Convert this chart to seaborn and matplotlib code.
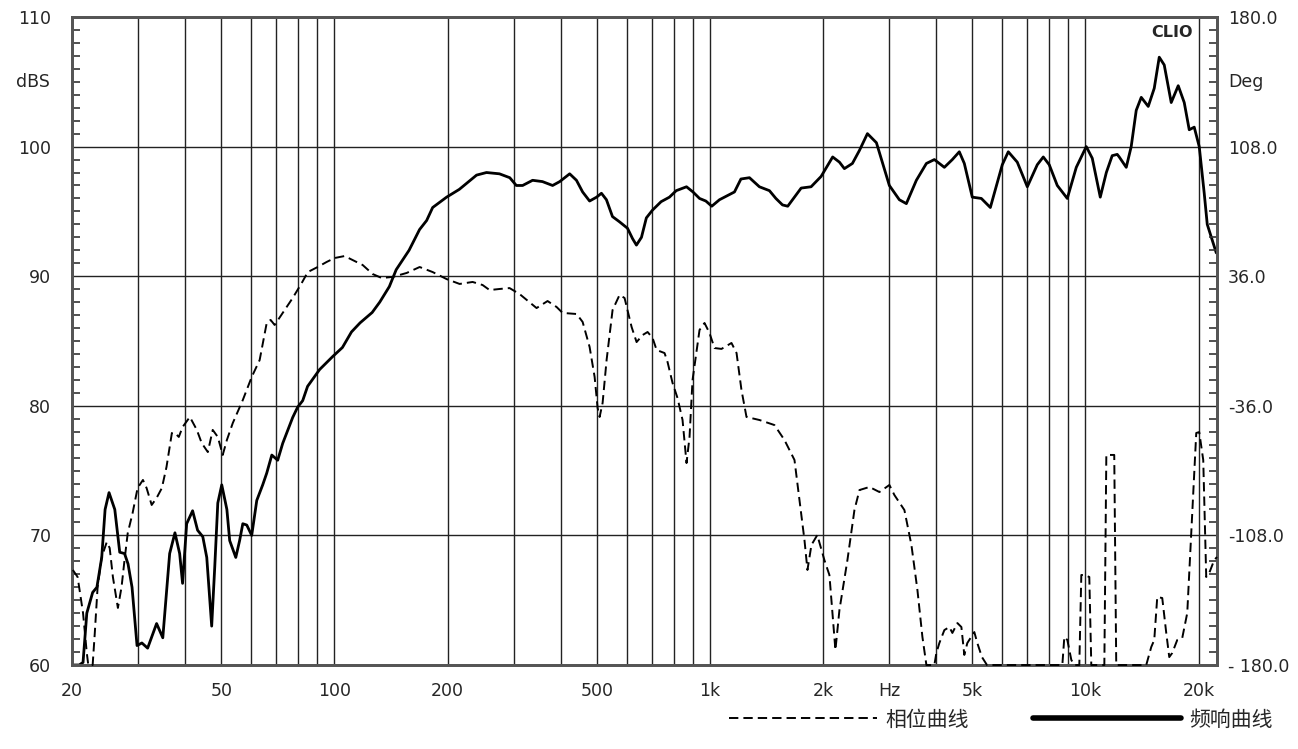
import pandas as pd
import seaborn as sns
import matplotlib.pyplot as plt
from matplotlib.ticker import MultipleLocator, NullLocator, FixedLocator
import numpy as np

# frequency response (solid line) - Hz / dB
spl_freq = [20, 20.9, 21.4, 21.9, 22.7, 23.3, 24.0, 24.5, 25.1, 26.0, 26.8, 27.6, 28.2, 28.9,
            29.8, 30.7, 31.8, 33.6, 34.9, 36.4, 37.6, 38.7, 39.4, 40.4, 41.9, 43.2, 44.6, 45.7,
            47.1, 48.0, 48.9, 50.1, 51.7, 52.6, 54.6, 55.9, 57.0, 58.4, 60.2, 62.1, 64.4, 66.0,
            68.1, 70.6, 72.8, 77.4, 79.8, 82.3, 84.8, 91.3, 98.9, 105, 111, 117, 126, 132, 140,
            146, 158, 168.5, 176, 182.6, 198.9, 215, 239, 254, 275, 293, 305, 317, 337, 358, 381,
            398, 423, 441, 458, 478, 499, 514, 530, 550, 574, 603, 622, 637, 657, 677, 703, 741,
            780, 813, 866, 901, 938, 975, 1011, 1060, 1127, 1162, 1209, 1274, 1354, 1440, 1498,
            1560, 1611, 1679, 1749, 1859, 1977, 2122, 2212, 2280, 2395, 2500, 2626, 2775, 3004,
            3194, 3334, 3545, 3770, 3959, 4209, 4420, 4613, 4757, 4995, 5280, 5580, 6004, 6229,
            6582, 7000, 7441, 7720, 8008, 8412, 8944, 9452, 10048, 10425, 10949, 11364, 11780,
            12150, 12300, 12840, 13236, 13651, 14077, 14694, 15245, 15719, 16208, 16918, 17660,
            18323, 18893, 19481, 20088, 20712, 21100, 21752, 22300]
spl_db = [60.0, 60.0, 60.2, 64.0, 65.6, 66.0, 68.3, 72.0, 73.3, 72.0, 68.7, 68.6, 67.8, 66.0,
          61.5, 61.7, 61.3, 63.2, 62.1, 68.6, 70.2, 68.6, 66.3, 70.9, 71.9, 70.4, 69.9, 68.3,
          63.0, 67.6, 72.5, 73.9, 72.0, 69.6, 68.3, 69.6, 70.9, 70.8, 70.0, 72.7, 73.9, 74.8,
          76.2, 75.8, 77.1, 79.1, 79.9, 80.4, 81.5, 82.8, 83.8, 84.5, 85.7, 86.4, 87.2, 88.0, 89.2,
          90.5, 92.0, 93.6, 94.3, 95.3, 96.1, 96.7, 97.8, 98.0, 97.9, 97.6, 97.0, 97.0, 97.4, 97.3, 97.0,
          97.3, 97.9, 97.4, 96.5, 95.8, 96.1, 96.4, 95.9, 94.6, 94.2, 93.7, 92.9, 92.4, 93.0, 94.5, 95.1, 95.75,
          96.1, 96.6, 96.9, 96.5, 96.0, 95.8, 95.4, 95.9, 96.3, 96.5, 97.5, 97.6, 96.9, 96.6, 96.0,
          95.5, 95.4, 96.1, 96.8, 96.9, 97.7, 99.2, 98.8, 98.3, 98.7, 99.7, 101.0, 100.3, 97.0,
          95.9, 95.6, 97.4, 98.7, 99.0, 98.4, 99.0, 99.6, 98.7, 96.1, 96.0, 95.3, 98.6, 99.6,
          98.8, 96.9, 98.6, 99.2, 98.6, 97.0, 96.0, 98.4, 100.0, 99.1, 96.1, 98.0, 99.3,
          99.4, 99.2, 98.4, 100.0, 102.8, 103.8, 103.1, 104.5, 106.9, 106.3, 103.4, 104.7,
          103.4, 101.3, 101.5, 100.0, 96.4, 94.0, 92.8, 91.8]

# phase (dashed line) - Hz / degrees
phase_freq = [20.1, 20.7, 21.4, 21.9, 22.1, 22.7, 23.0, 23.4, 24.0, 24.75, 25.2, 25.7, 26.5, 27.1,
              27.6, 28.15, 29.0, 29.9, 30.9, 31.6, 32.6, 33.6, 34.7, 35.7, 36.9, 37.6, 38.5, 39.4,
              41.2, 43.0, 44.3, 46.0, 47.4, 48.9, 50.4, 51.7, 53.6, 57.0, 60.2, 63.2, 66.0, 67.6,
              69.3, 72.8, 77.4, 81.8, 84.9, 90.2, 95.3, 100.1, 106.4, 111.8, 118.9, 126.4, 133.6,
              142.9, 155.7, 168.6, 182.6, 198.9, 215.4, 233.3, 248, 258.9, 275.2, 292.6, 311.1,
              345.3, 369.4, 390.4, 405, 441.4, 458, 478, 493, 502.1, 508.3, 517.7, 530.5, 550.3,
              574.4, 592.3, 618.4, 637.6, 661.5, 682.1, 703.3, 720.9, 756.9, 771, 794.9, 819.6,
              845.2, 866.1, 882.2, 898.6, 937.9, 967.1, 997.3, 1028, 1073, 1141, 1177, 1213, 1251,
              1355, 1485, 1579, 1679, 1731, 1785, 1818, 1863, 1931, 2017, 2080, 2158, 2212, 2323,
              2425, 2501, 2659, 2826, 3005, 3099, 3294, 3439, 3568, 3679, 3770, 3959, 4008, 4082,
              4209, 4340, 4421, 4559, 4672, 4757, 4845, 5058, 5152, 5300, 5466, 8677, 8784, 8947,
              9169, 9339, 9629, 9748, 9929, 10237, 10363, 11226, 11364, 11929, 12076, 14516, 14968,
              15246, 15529, 16012, 16410, 16715, 17025, 17554, 18101, 18665, 19128, 19724, 20088,
              20587, 20968, 21357, 22021, 22400]
phase_deg = [-127.2, -131.1, -151.1, -173.3, -180, -180, -162.2, -136.7, -120, -111.7, -115, -131.1,
             -148.3, -136.7, -121.7, -106.7, -95.6, -81.7, -77.2, -81.7, -91.1, -87.2, -81.7, -70,
             -51.1, -51.1, -53.3, -47.8, -42.2, -49.4, -56.7, -61.7, -49.4, -53.3, -63.3, -55,
             -45.6, -32.8, -20, -10.6, 10, 11.7, 8.9, 15.6, 23.9, 32.2, 38.3, 41.1, 43.9, 46.1,
             47.2, 45, 42.2, 37.2, 35, 35.6, 37.8, 41.1, 38.3, 34.4, 31.7, 32.8, 31.1, 28.3, 28.9,
             29.4, 26.1, 18.3, 22.2, 18.9, 15.6, 15, 10.6, -3.3, -20, -37.2, -42.2, -34.4, -10.6,
             17.2, 25.6, 23.9, 7.8, -0.6, 3.3, 5, 1.7, -5, -6.7, -11.7, -23.3, -31.7, -43.9, -67.8,
             -53.3, -21.7, 6.1, 10, 4.4, -3.9, -4.4, -1.1, -6.7, -27.2, -42.2, -43.9, -46.7, -55,
             -66.1, -88.3, -110.6, -127.2, -113.3, -107.8, -121.7, -130, -171.7, -149.4, -121.7,
             -93.9, -82.8, -81.1, -83.9, -80, -85.6, -93.9, -113.3, -138.3, -164.4, -180, -180,
             -173.3, -167.8, -160.6, -158.9, -162.2, -156.7, -158.9, -174.4, -167.8, -161.7,
             -167.8, -175.6, -180, -180, -164.4, -166.1, -177.2, -180, -180, -130, -130, -131.1,
             -180, -180, -63.3, -63.3, -180, -180, -170, -166.1, -142.2, -142.8, -162.2, -175.6,
             -173.3, -166.1, -165, -151.1, -106.7, -51.1, -50.6, -66.1, -131.1, -128.9, -121.7, -120]

grid_freqs = [20, 30, 40, 50, 60, 70, 80, 90, 100, 200, 300, 400, 500, 600, 700, 800, 900,
              1000, 2000, 3000, 4000, 5000, 6000, 7000, 8000, 9000, 10000, 20000]
freq_labels = {20: '20', 50: '50', 100: '100', 200: '200', 500: '500', 1000: '1k',
               2000: '2k', 3000: 'Hz', 5000: '5k', 10000: '10k', 20000: '20k'}
db_ticks = [60, 70, 80, 90, 100, 110]
deg_ticks = [-180, -108, -36, 36, 108, 180]
deg_labels = ['- 180.0', '-108.0', '-36.0', '36.0', '108.0', '180.0']

sns.set_style("white")
plt.rcParams['font.family'] = ['DejaVu Sans', 'Noto Sans CJK SC']

fig = plt.figure(figsize=(12.98, 7.49), dpi=100)
ax = fig.add_axes([72 / 1298, 1 - 665 / 749, (1217 - 72) / 1298, (665 - 17) / 749])
ax2 = ax.twinx()

spl_df = pd.DataFrame({'freq': spl_freq, 'db': spl_db})
phase_df = pd.DataFrame({'freq': phase_freq, 'deg': phase_deg})

sns.lineplot(data=spl_df, x='freq', y='db', ax=ax, color='black', lw=2.0,
             estimator=None, sort=False)
sns.lineplot(data=phase_df, x='freq', y='deg', ax=ax2, color='black', lw=1.4,
             estimator=None, sort=False, clip_on=False, zorder=3)
ax2.lines[0].set_dashes([4.8, 2.6])

ax.set_xscale('log')
ax.set_xlim(20, 22400)
ax.set_xticks(grid_freqs)
ax.set_xticklabels([freq_labels.get(f, '') for f in grid_freqs])
ax.xaxis.set_minor_locator(NullLocator())
ax.tick_params(axis='x', length=0, pad=12, labelsize=12.5)

ax.set_ylim(60, 110)
ax.set_yticks(db_ticks)
ax.yaxis.set_minor_locator(MultipleLocator(1))
ax.tick_params(axis='y', which='minor', direction='in', length=6, width=1.2, color='#333')
ax.tick_params(axis='y', which='major', length=0, pad=15, labelsize=12.5)
ax.grid(True, which='major', color='#222', lw=1)
ax.set_axisbelow(True)

ax2.set_ylim(-180, 180)
ax2.set_yticks(deg_ticks)
ax2.set_yticklabels(deg_labels)
ax2.yaxis.set_minor_locator(FixedLocator(np.linspace(-180, 180, 51)))
ax2.tick_params(axis='y', which='minor', direction='in', length=6, width=1.2, color='#333')
ax2.tick_params(axis='y', which='major', length=0, pad=8, labelsize=12.5)
ax2.grid(False)

for a in (ax, ax2):
    a.set_xlabel('')
    a.set_ylabel('')
    for s in a.spines.values():
        s.set_color('#555')
        s.set_linewidth(2)

ax.text(0.979, 0.988, 'CLIO', transform=ax.transAxes, ha='right', va='top',
        fontsize=11.5, fontweight='bold')
fig.text(50 / 1298, 1 - 82 / 749, 'dBS', ha='right', va='center', fontsize=12.5)
fig.text(1228 / 1298, 1 - 82 / 749, 'Deg', ha='left', va='center', fontsize=12.5)

leg = fig.legend([ax2.lines[0], ax.lines[0]], ['相位曲线', '频响曲线'], loc='center',
                 bbox_to_anchor=(0.771, 0.039), ncol=2, frameon=False, fontsize=15,
                 handlelength=7.1, handletextpad=0.4, columnspacing=3.1)
leg.get_lines()[1].set_linewidth(4)

fig.savefig('out.png', dpi=100)
